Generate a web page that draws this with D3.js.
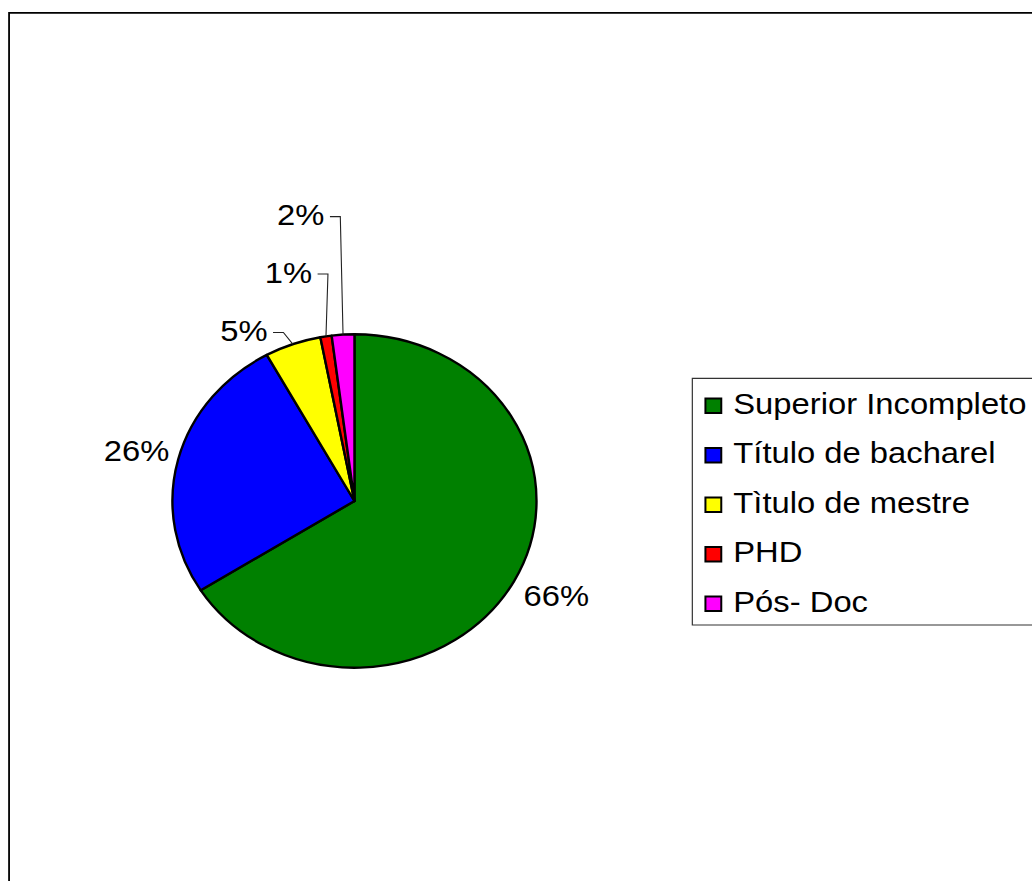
<!DOCTYPE html>
<html>
<head>
<meta charset="utf-8">
<script src="https://cdn.jsdelivr.net/npm/d3@7"></script>
<style>
  html, body { margin: 0; padding: 0; background: #fff; }
  svg { display: block; }
  text { font-family: "Liberation Sans", Arial, Helvetica, sans-serif; fill: #000; }
</style>
</head>
<body>
<script>
// Education level of respondents
const categories = ["Superior Incompleto", "Título de bacharel", "Tìtulo de mestre", "PHD", "Pós- Doc"];
const values = [66, 26, 5, 1, 2];
const colors = ["#008000", "#0000FF", "#FFFF00", "#FF0000", "#FF00FF"];
// Label displacement (inner units) for labels pulled away from their slice
const labelNudge = [[7, -3], [-3, 0], [-32.5, 20.5], [-28.7, -28.5], [-36.4, -83.8]];
const calloutLabels = [false, false, true, true, true];

const W = 1032, H = 881;
const stretchX = 1.092;          // chart area is drawn slightly wider than tall
const cx = 324.6, cy = 501, R = 166.7;
const labelR = 203;
const fontSize = 30;

const svg = d3.select("body").append("svg")
  .attr("width", W).attr("height", H);

svg.append("rect").attr("width", W).attr("height", H).attr("fill", "#fff");

const root = svg.append("g").attr("transform", `scale(${stretchX},1)`);

// chart frame (runs off the right and bottom)
root.append("rect")
  .attr("x", 8.3).attr("y", 12.8)
  .attr("width", 1200).attr("height", 1000)
  .attr("fill", "none").attr("stroke", "#000").attr("stroke-width", 1.8)
  .attr("vector-effect", "non-scaling-stroke");

const pie = d3.pie().sort(null).value(d => d).startAngle(0).endAngle(2 * Math.PI);
const arcs = pie(values);
const arc = d3.arc().innerRadius(0).outerRadius(R);

const g = root.append("g").attr("transform", `translate(${cx},${cy})`);

g.selectAll("path.slice")
  .data(arcs)
  .join("path")
  .attr("class", "slice")
  .attr("d", arc)
  .attr("fill", (d, i) => colors[i])
  .attr("stroke", "#000")
  .attr("stroke-width", 2.4)
  .attr("stroke-linejoin", "round")
  .attr("vector-effect", "non-scaling-stroke");

// data labels
const polar = (a, r) => [Math.sin(a) * r, -Math.cos(a) * r];

arcs.forEach((d, i) => {
  const mid = (d.startAngle + d.endAngle) / 2;
  const [lx0, ly0] = polar(mid, labelR);
  const lx = lx0 + labelNudge[i][0];
  const ly = ly0 + labelNudge[i][1];
  const t = g.append("text")
    .attr("x", lx).attr("y", ly)
    .attr("dy", "0.35em")
    .attr("text-anchor", "middle")
    .attr("font-size", fontSize)
    .text(values[i] + "%");

  if (calloutLabels[i]) {
    const w = t.node().getComputedTextLength();
    const x0 = lx + w / 2 + 5;
    const x1 = x0 + 9.5;
    const y0 = ly + 2;
    const [ax, ay] = polar(mid, R);
    g.append("path")
      .attr("d", d3.line()([[x0, y0], [x1, y0], [ax, ay]]))
      .attr("fill", "none")
      .attr("stroke", "#222")
      .attr("stroke-width", 1.1)
      .attr("vector-effect", "non-scaling-stroke");
  }
});

// legend
const legX = 634, legY = 378.3, legH = 246.7, rowStep = 49.5, firstBase = 413.5;
const legend = root.append("g");
legend.append("rect")
  .attr("x", legX).attr("y", legY)
  .attr("width", 400).attr("height", legH)
  .attr("fill", "#fff").attr("stroke", "#333").attr("stroke-width", 1.2)
  .attr("vector-effect", "non-scaling-stroke");

const rows = legend.selectAll("g.row")
  .data(categories)
  .join("g")
  .attr("class", "row")
  .attr("transform", (d, i) => `translate(0,${firstBase + i * rowStep})`);

rows.append("rect")
  .attr("x", 646).attr("y", -15)
  .attr("width", 14.5).attr("height", 14.5)
  .attr("fill", (d, i) => colors[i])
  .attr("stroke", "#000").attr("stroke-width", 2)
  .attr("vector-effect", "non-scaling-stroke");

rows.append("text")
  .attr("x", 671.5).attr("y", 0)
  .attr("font-size", fontSize)
  .text(d => d);
</script>
</body>
</html>
